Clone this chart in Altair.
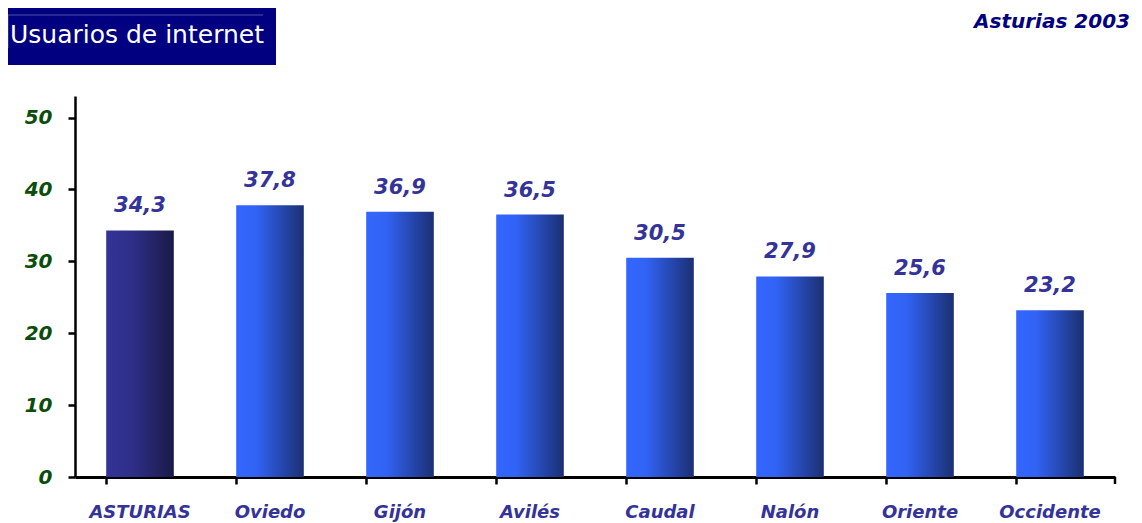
import altair as alt
import pandas as pd

regions = ["ASTURIAS", "Oviedo", "Gijón", "Avilés", "Caudal", "Nalón", "Oriente", "Occidente"]
values = [34.3, 37.8, 36.9, 36.5, 30.5, 27.9, 25.6, 23.2]
y_ticks = [0, 10, 20, 30, 40, 50]

title_text = "Usuarios de internet"
subtitle_text = "Asturias 2003"

df = pd.DataFrame({"region": regions, "value": values})
df["label"] = [f"{v:.1f}".replace(".", ",") for v in values]

FONT = "DejaVu Sans"
NAVY = "#000080"
LABEL_BLUE = "#333399"

W, H = 1040, 381

grad_blue = alt.Gradient(
    gradient="linear", x1=0, x2=1, y1=0, y2=0,
    stops=[alt.GradientStop(color="#3366FF", offset=0),
           alt.GradientStop(color="#3163F3", offset=0.3),
           alt.GradientStop(color="#1B2F72", offset=1)])
grad_dark = alt.Gradient(
    gradient="linear", x1=0, x2=1, y1=0, y2=0,
    stops=[alt.GradientStop(color="#333399", offset=0),
           alt.GradientStop(color="#2E2E88", offset=0.4),
           alt.GradientStop(color="#1A1A48", offset=1)])

x_enc = alt.X("region:N", sort=regions,
              scale=alt.Scale(paddingInner=0.48, paddingOuter=0.24),
              axis=alt.Axis(title=None, labelAngle=0, bandPosition=0,
                            domainColor="black", domainWidth=3,
                            tickColor="black", tickWidth=2.5, tickSize=7,
                            labelFont=FONT, labelFontSize=18, labelFontStyle="italic",
                            labelFontWeight="bold",
                            labelColor=LABEL_BLUE, labelBaseline="alphabetic",
                            labelPadding=33, grid=False))
y_enc = alt.Y("value:Q", scale=alt.Scale(domain=[0, 53], nice=False),
              axis=alt.Axis(title=None, values=y_ticks, grid=False,
                            domainColor="black", domainWidth=2.5,
                            tickColor="black", tickWidth=2.5, tickSize=7,
                            labelFont=FONT, labelFontSize=20, labelFontStyle="italic",
                            labelFontWeight="bold",
                            labelColor="#0B4D0B", labelPadding=16))

base = alt.Chart(df)

bars_other = base.transform_filter(alt.datum.region != "ASTURIAS").mark_bar(
    color=grad_blue).encode(x=x_enc, y=y_enc)
bars_ast = base.transform_filter(alt.datum.region == "ASTURIAS").mark_bar(
    color=grad_dark).encode(x=x_enc, y=y_enc)

texts = base.mark_text(font=FONT, fontSize=21, fontStyle="italic", fontWeight="bold",
                       color=LABEL_BLUE, baseline="alphabetic", dy=-18).encode(
    x=alt.X("region:N", sort=regions), y="value:Q", text="label:N")

one = alt.Data(values=[{"a": 1}])

end_tick = alt.Chart(one).mark_rule(color="black", strokeWidth=2.5).encode(
    x=alt.value(W), y=alt.value(H), y2=alt.value(H + 7))

header_box = alt.Chart(one).mark_rect(color=NAVY).encode(
    x=alt.value(-80), x2=alt.value(201), y=alt.value(-100), y2=alt.value(-31))
header_line = alt.Chart(one).mark_rect(color=NAVY).encode(
    x=alt.value(-80), x2=alt.value(1070), y=alt.value(-100), y2=alt.value(-92))
bevel_h = alt.Chart(one).mark_rule(color="#5050A8", strokeWidth=1).encode(
    x=alt.value(-67), x2=alt.value(188), y=alt.value(-81))
bevel_v = alt.Chart(one).mark_rule(color="#5050A8", strokeWidth=1).encode(
    x=alt.value(-67), y=alt.value(-81), y2=alt.value(-48))
title = alt.Chart(one).mark_text(text=title_text, font=FONT, fontSize=25, color="white",
                                 align="left", baseline="alphabetic").encode(
    x=alt.value(-65), y=alt.value(-53))
subtitle = alt.Chart(one).mark_text(text=subtitle_text, font=FONT, fontSize=20,
                                    fontStyle="italic", fontWeight="bold", color=NAVY,
                                    align="right", baseline="alphabetic").encode(
    x=alt.value(1055), y=alt.value(-68))

chart = alt.layer(
    header_line, header_box, bevel_h, bevel_v, title, subtitle,
    bars_ast, bars_other, texts, end_tick
).properties(
    width=W, height=H,
    autosize=alt.AutoSizeParams(type="none"),
    padding={"left": 67, "top": 88, "right": 19, "bottom": 46},
).configure(background="white").configure_view(strokeWidth=0, stroke="transparent")

chart.save("out.html", embed_options={"renderer": "svg", "actions": False})
